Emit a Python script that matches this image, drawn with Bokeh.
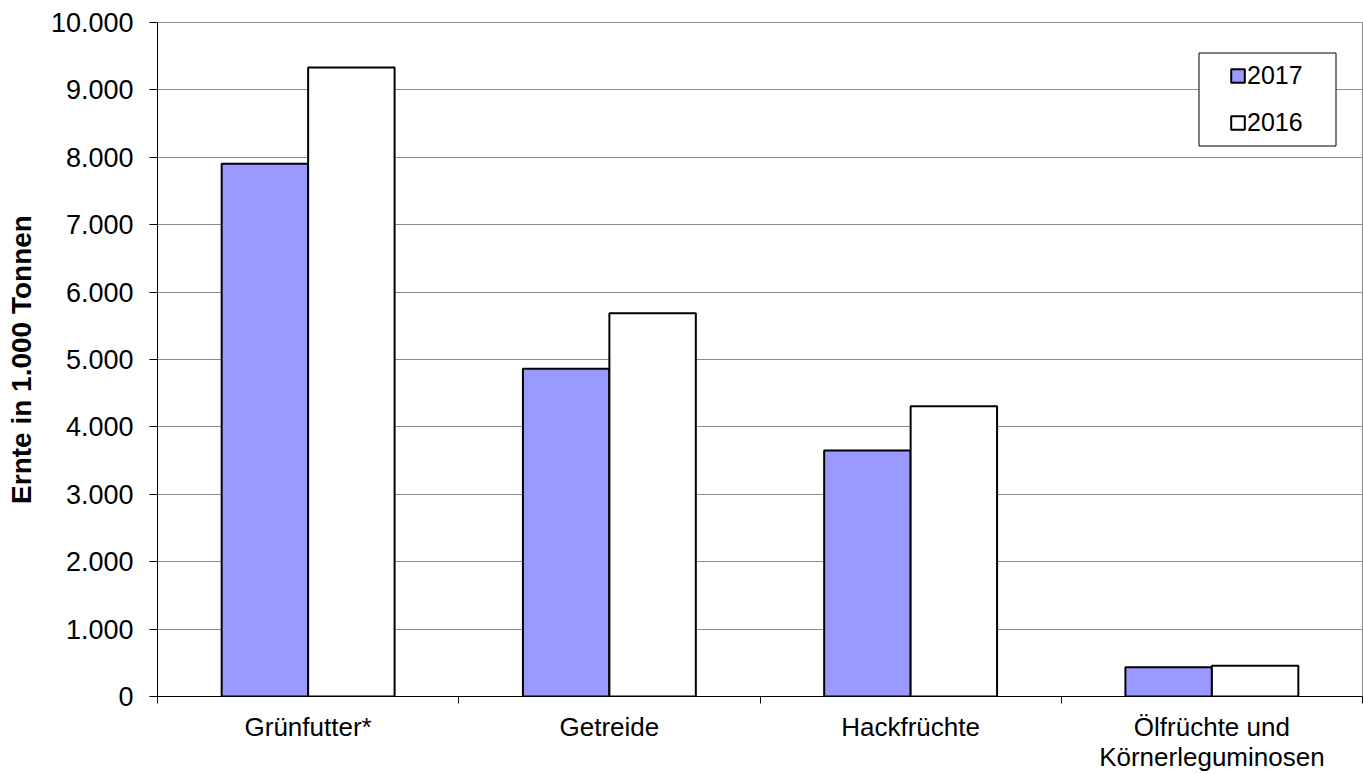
from bokeh.plotting import figure
from bokeh.models import (Range1d, FixedTicker, Legend, LegendItem, BoxAnnotation,
                          ColumnDataSource)
from bokeh.transform import dodge
from bokeh.embed import file_html
from bokeh.resources import INLINE

# ---- data ----
categories = ["Grünfutter*", "Getreide", "Hackfrüchte", "Ölfrüchte und\nKörnerleguminosen"]
series = ["2017", "2016"]
values_2017 = [7905, 4862, 3648, 435]
values_2016 = [9331, 5688, 4306, 456]
y_ticks = [0, 1000, 2000, 3000, 4000, 5000, 6000, 7000, 8000, 9000, 10000]
y_tick_labels = ["0", "1.000", "2.000", "3.000", "4.000", "5.000",
                 "6.000", "7.000", "8.000", "9.000", "10.000"]
y_title = "Ernte in 1.000 Tonnen"

FONT = "Liberation Sans"
GRID = "#8c8c8c"

centers = [i + 0.5 for i in range(len(categories))]
src = ColumnDataSource(dict(x=centers, v2017=values_2017, v2016=values_2016))

p = figure(width=1363, height=774,
           x_range=Range1d(0, len(categories)), y_range=Range1d(0, 10000),
           output_backend="svg", toolbar_location=None,
           min_border_left=157, min_border_right=1,
           min_border_top=22, min_border_bottom=78)

bw = 0.287
r17 = p.vbar(x=dodge("x", -bw / 2, range=p.x_range), top="v2017", width=bw, source=src,
             fill_color="#9999FF", line_color="black", line_width=2)
r16 = p.vbar(x=dodge("x", bw / 2, range=p.x_range), top="v2016", width=bw, source=src,
             fill_color="white", line_color="black", line_width=2)

# y axis
p.yaxis.ticker = FixedTicker(ticks=y_ticks)
p.yaxis.major_label_overrides = {t: l for t, l in zip(y_ticks, y_tick_labels)}
p.yaxis.major_label_text_font = FONT
p.yaxis.major_label_text_font_size = "27px"
p.yaxis.major_label_text_color = "black"
p.yaxis.major_tick_out = 8
p.yaxis.major_tick_in = 0
p.yaxis.minor_tick_out = 0
p.yaxis.minor_tick_in = 0
p.yaxis.major_label_standoff = 16
p.yaxis.axis_line_color = "black"
p.yaxis.major_tick_line_color = "black"
p.yaxis.axis_label = y_title
p.yaxis.axis_label_text_font = FONT
p.yaxis.axis_label_text_font_style = "bold"
p.yaxis.axis_label_text_font_size = "28px"
p.yaxis.axis_label_text_color = "black"
p.yaxis.axis_label_standoff = 11

# x axis: labels at centers, tick marks at category boundaries
p.xaxis.ticker = FixedTicker(ticks=centers, minor_ticks=list(range(len(categories) + 1)))
p.xaxis.major_label_overrides = {c: l for c, l in zip(centers, categories)}
p.xaxis.major_label_text_font = FONT
p.xaxis.major_label_text_font_size = "26px"
p.xaxis.major_label_text_color = "black"
p.xaxis.major_label_text_line_height = 1.0
p.xaxis.major_tick_out = 0
p.xaxis.major_tick_in = 0
p.xaxis.minor_tick_out = 7
p.xaxis.minor_tick_in = 0
p.xaxis.minor_tick_line_color = "black"
p.xaxis.axis_line_color = "black"
p.xaxis.major_label_standoff = 8

p.xgrid.grid_line_color = None
p.ygrid.grid_line_color = GRID
p.ygrid.ticker = FixedTicker(ticks=y_ticks)
p.outline_line_color = GRID
p.background_fill_color = "white"
p.border_fill_color = "white"

# legend box
box = BoxAnnotation(left=1198.5, right=1335.5, top=52.5, bottom=145.5,
                    left_units="canvas", right_units="canvas",
                    top_units="canvas", bottom_units="canvas",
                    fill_color="white", fill_alpha=1,
                    line_color="black", line_alpha=1, line_width=1)
p.add_layout(box)

legend = Legend(items=[LegendItem(label=series[0], renderers=[r17]),
                       LegendItem(label=series[1], renderers=[r16])],
                location="top_right", margin=38, padding=0, spacing=17,
                glyph_width=17, glyph_height=17, label_height=30, label_width=77,
                label_standoff=1,
                label_text_font=FONT, label_text_font_size="25px",
                label_text_color="black",
                border_line_alpha=0, background_fill_alpha=0)
p.add_layout(legend)

open("out.html", "w").write(file_html(p, INLINE))
